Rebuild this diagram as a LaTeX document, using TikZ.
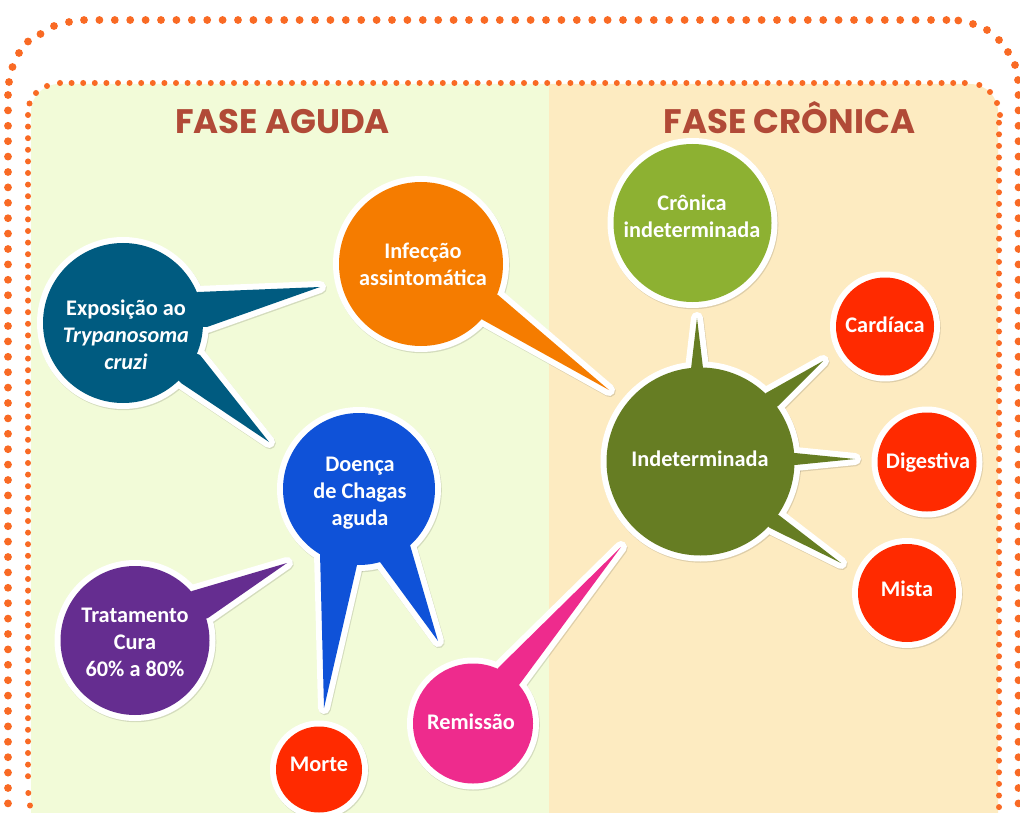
\documentclass[tikz,border=0pt]{standalone}
\usepackage{fontspec}
\setmainfont{Carlito}
\newfontfamily\titlefont{Poppins}
\definecolor{dotc}{HTML}{F96A24}
\definecolor{bgleft}{HTML}{F2FBD8}
\definecolor{bgright}{HTML}{FDEBC1}
\definecolor{titlec}{HTML}{B14A37}
\definecolor{teal}{HTML}{005B80}
\definecolor{orangec}{HTML}{F57C00}
\definecolor{bluec}{HTML}{0F52D8}
\definecolor{purplec}{HTML}{652D90}
\definecolor{pinkc}{HTML}{EE2B8D}
\definecolor{olivec}{HTML}{667D23}
\definecolor{greenc}{HTML}{8DB132}
\definecolor{redc}{HTML}{FF2A00}
\tikzset{
  outerdot/.style={fill=dotc},
  bubtext/.style={text=white,font=\fontsize{22.3}{27}\selectfont\bfseries,align=center,inner sep=0pt},
  titletext/.style={text=titlec,font=\titlefont\fontsize{34}{40}\selectfont\bfseries,inner sep=0pt,anchor=base},
  rim/.style={draw=white,fill=white,line width=12pt,line join=round},
  rimshadow/.style={draw=black,line width=12pt,line join=round,draw opacity=.12,shift={(0.8pt,-1.2pt)}},
}
\newcommand\spikepath[3]{%
  \foreach \ax/\ay/\bx/\by/\cx/\cy in {#3}{
    \path[#1] (\ax,\ay) -- (\bx,\by) -- (\cx,\cy) -- cycle;
  }}
\newcommand\bubble[9]{%
  \path[rimshadow] (#2,#3) circle[radius=#4pt];
  \if\relax\detokenize{#6}\relax\else\spikepath{rimshadow}{}{#6}\fi
  \path[rim] (#2,#3) circle[radius=#4pt];
  \if\relax\detokenize{#6}\relax\else\spikepath{rim}{}{#6}\fi
  \if\relax\detokenize{#6}\relax\else
  \foreach \ax/\ay/\bx/\by/\cx/\cy in {#6}{
    \fill[#5] (#2,#3) -- (\ax,\ay) -- (\bx,\by) -- (\cx,\cy) -- cycle;
  }\fi
  \node[circle,fill=#5,minimum size=#4*2pt,inner sep=0pt] (#1) at (#2,#3) {};
  \node[bubtext] (#1-text) at (#7,#8) {#9};
}
\begin{document}
\begin{tikzpicture}[x=1pt,y=-1pt]
\useasboundingbox (0,0) rectangle (1020,813);
\fill[white] (0,0) rectangle (1020,813);
% panels
\fill[bgleft] (31,813) -- (31,112) arc[start angle=180,end angle=90,radius=28pt] -- (549,84) -- (549,813) -- cycle;
\fill[bgright] (549,813) -- (549,84) -- (970,84) arc[start angle=90,end angle=0,radius=28pt] -- (998,813) -- cycle;
% outer dotted frame
\foreach \x in {84,99.4,...,948}{\fill[outerdot] (\x,20) circle[radius=3.9pt];}
\foreach \y in {95,110.4,...,815}{\fill[outerdot] (8,\y) circle[radius=3.9pt];}
\foreach \y in {95,110.4,...,815}{\fill[outerdot] (1018.5,\y) circle[radius=3.9pt];}
\foreach \x/\y in {69/22,54/26,40.5/34,28/41.5,19/53,12.5/67,9/82,958.3/20.5,973/24,987/30,999/40,1008/52,1015/65,1018/80}{\fill[outerdot] (\x,\y) circle[radius=3.9pt];}
% inner dotted frame
\foreach \x in {60,71.6,...,968}{\fill[outerdot] (\x,83) circle[radius=3pt];}
\foreach \y in {115,126.6,...,787}{\fill[outerdot] (28,\y) circle[radius=3pt];}
\foreach \y in {122.7,134.3,...,815}{\fill[outerdot] (999,\y) circle[radius=3pt];}
\foreach \x/\y in {47/86,36/93,29.5/103.5,28.3/793,30/805.5,979.3/85,990/92,997/103,1000/115}{\fill[outerdot] (\x,\y) circle[radius=3pt];}
% titles
\node[titletext] (titleA) at (282.5,134) {FASE AGUDA};
\node[titletext] (titleB) at (789.5,134) {FASE CRÔNICA};
% bubbles
\bubble{expo}{123}{323}{80}{teal}{198/292/320/287/207/327,200/355/269/442/181/383}{126}{335}{Exposição ao\\\textit{Trypanosoma}\\\textit{cruzi}}
\bubble{infec}{421}{264}{82}{orangec}{498/295/609/390/483/320}{423}{264}{Infecção\\assintomática}
\bubble{cron}{692.5}{223}{79}{greenc}{}{692}{216.5}{Crônica\\indeterminada}
\bubble{doenca}{359}{489}{76}{bluec}{410/545/438/641/380/562,357/565/324/708/320/553}{360}{493}{Doença\\de Chagas\\aguda}
\bubble{trat}{135}{640.5}{74.5}{purplec}{192/591/287/563/208/618}{135}{642}{Tratamento\\Cura\\60\% a 80\%}
\bubble{remi}{473}{723.5}{60}{pinkc}{498/668/621/547/519/685}{471}{722}{Remissão}
\bubble{indet}{700.5}{461.5}{94}{olivec}{691/369/697/318/703/368,766/393/823/361/778/406,795/453/855/459/795/465,780/516/841/563/770/528}{700}{459}{Indeterminada}
\bubble{card}{885}{326.5}{49}{redc}{}{885}{325}{Cardíaca}
\bubble{dige}{927}{462}{49.5}{redc}{}{928}{462.5}{Digestiva}
\bubble{mista}{907}{593}{49}{redc}{}{907}{589}{Mista}
\bubble{morte}{319}{769.5}{43}{redc}{}{319}{764}{Morte}
\end{tikzpicture}
\end{document}
